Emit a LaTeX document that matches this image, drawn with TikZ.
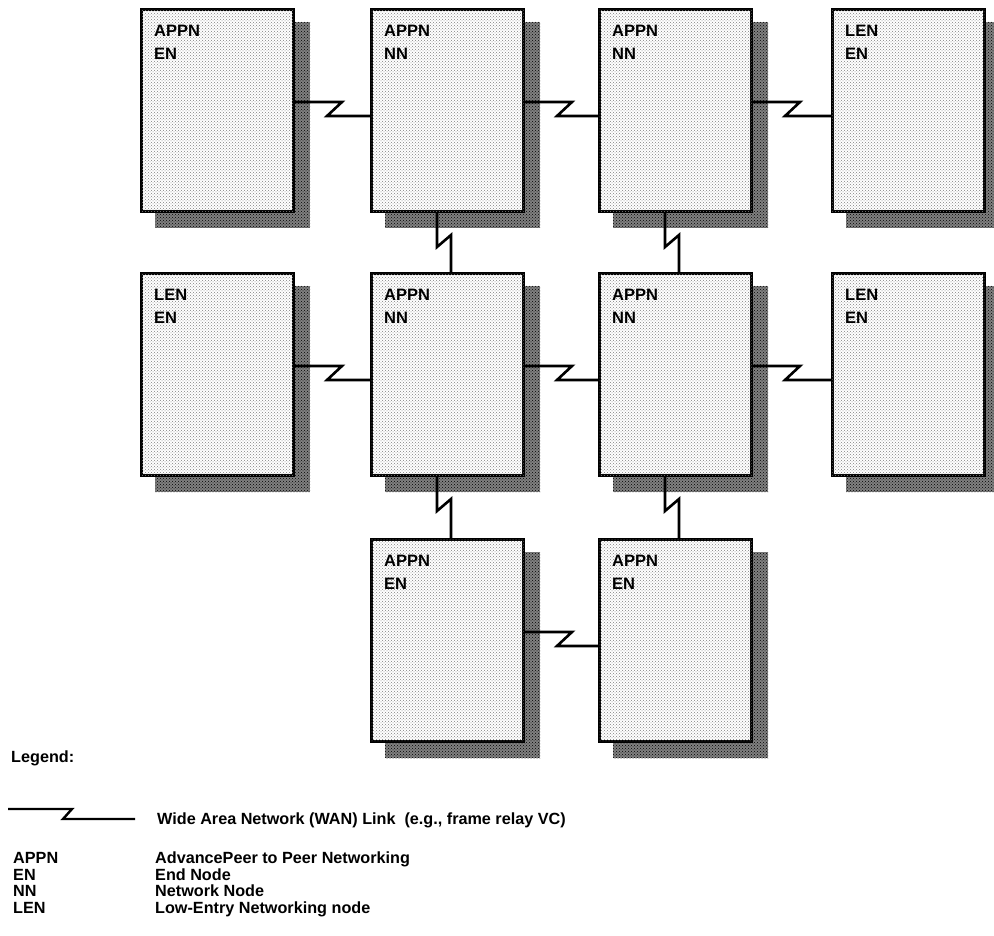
\documentclass[tikz,border=0pt]{standalone}
\usepackage{fontspec}
\setmainfont{Liberation Sans}
\usetikzlibrary{patterns}
\begin{document}
\begin{tikzpicture}[x=1pt,y=-1pt,
  box/.style={draw=black, line width=2.6pt, fill=white, minimum width=152.4pt, minimum height=202.4pt,
    anchor=north west, inner sep=0pt,
    postaction={pattern=crosshatch dots, pattern color=black!50}},
  shade/.style={fill=black!50, postaction={pattern=crosshatch dots, pattern color=black}},
  lbl/.style={anchor=base west, inner sep=0pt, font=\bfseries\fontsize{16.5}{19}\selectfont},
  leg/.style={anchor=base west, inner sep=0pt, font=\bfseries\fontsize{16.2}{18}\selectfont},
  wan/.style={draw=black, line width=2.6pt, line join=miter}]
\useasboundingbox (0,0) rectangle (994,936);
\foreach \n/\x/\y/\a/\b in {a/140/8/APPN/EN, b/370/8/APPN/NN, c/598/8/APPN/NN, d/831/8/LEN/EN,
  e/140/272/LEN/EN, f/370/272/APPN/NN, g/598/272/APPN/NN, h/831/272/LEN/EN,
  i/370/538/APPN/EN, j/598/538/APPN/EN}{
  \path[shade] (\x+15,\y+14) rectangle (\x+170,\y+220);
  \node[box] (\n) at (\x,\y) {};
  \node[lbl] (\n1) at (\x+14,\y+28.5) {\a};
  \node[lbl] (\n2) at (\x+14,\y+51.5) {\b};
}
% horizontal WAN links
\foreach \p/\q in {a/b, b/c, c/d, e/f, f/g, g/h, i/j}{
  \draw[wan] ([yshift=-94pt]\p.north east) -- ++(47,0) -- ++(-15,14) -- ([yshift=-108pt]\q.north west);
}
% vertical WAN links
\foreach \p/\q in {b/f, c/g, f/i, g/j}{
  \draw[wan] ([xshift=67pt]\p.south west) -- ++(0,34) -- ++(14,-12) -- ([xshift=81pt]\q.north west);
}
% legend
\node[leg] (legend) at (11,762) {Legend:};
\coordinate (ls) at (8,809);
\coordinate (le) at (135,819);
\draw[wan, line width=2.4pt] (ls) -- (72,809) -- (63,819) -- (le);
\node[leg] (wantext) at (157,824) {Wide Area Network (WAN) Link \ (e.g., frame relay VC)};
\node[leg] (k1) at (13,863.5) {APPN};
\node[leg] (d1) at (155,863.5) {AdvancePeer to Peer Networking};
\node[leg] (k2) at (13,880) {EN};
\node[leg] (d2) at (155,880) {End Node};
\node[leg] (k3) at (13,896.5) {NN};
\node[leg] (d3) at (155,896.5) {Network Node};
\node[leg] (k4) at (13,913) {LEN};
\node[leg] (d4) at (155,913) {Low-Entry Networking node};
\end{tikzpicture}
\end{document}
